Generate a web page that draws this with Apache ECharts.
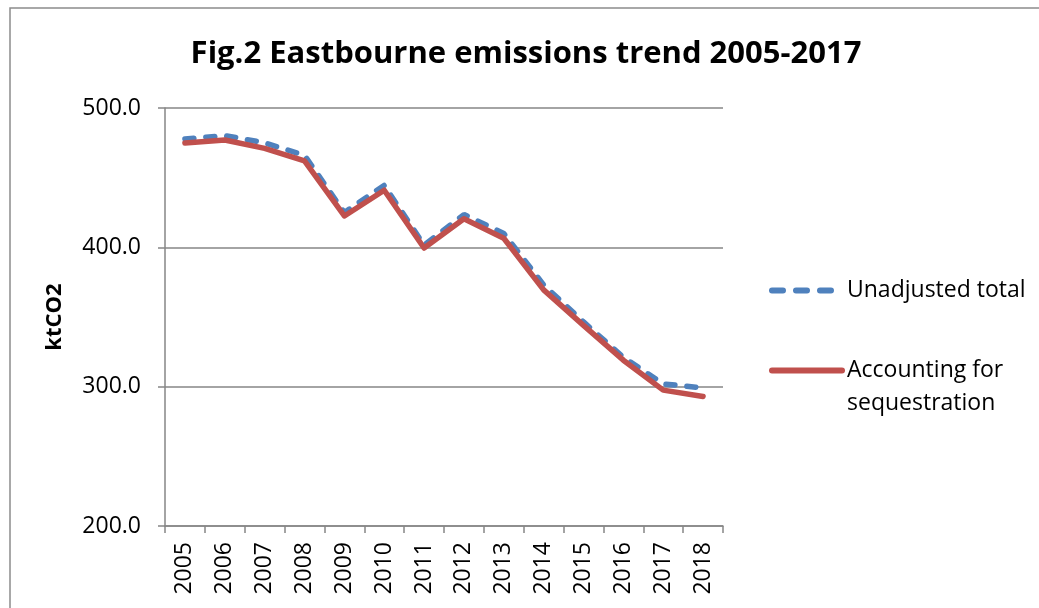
<!DOCTYPE html>
<html>
<head>
<meta charset="utf-8">
<script src="https://cdn.jsdelivr.net/npm/echarts@6/dist/echarts.min.js"></script>
<style>
  html, body { margin: 0; padding: 0; background: #fff; }
  #chart { width: 1039px; height: 608px; }
</style>
</head>
<body>
<div id="chart"></div>
<script>
  // data
  const years = ['2005', '2006', '2007', '2008', '2009', '2010', '2011',
                 '2012', '2013', '2014', '2015', '2016', '2017', '2018'];
  const unadjusted = [477.7, 480.2, 475.0, 466.0, 425.0, 444.5, 401.5,
                      423.5, 410.0, 373.0, 346.5, 321.0, 302.0, 299.0];
  const sequestration = [474.9, 477.0, 471.0, 462.0, 422.5, 441.0, 399.5,
                         420.5, 406.5, 369.5, 344.0, 319.0, 297.5, 293.0];
  const yTicks = [200, 300, 400, 500];

  const font = '"Open Sans", "Liberation Sans", sans-serif';
  const gridColor = '#868686';
  const blue = '#4F81BD';
  const red = '#C0504D';

  const chart = echarts.init(document.getElementById('chart'));
  chart.setOption({
    animation: false,
    textStyle: { fontFamily: font },
    title: {
      text: 'Fig.2 Eastbourne emissions trend 2005-2017',
      left: 521,
      textAlign: 'center',
      top: 34,
      textStyle: { fontSize: 31, fontWeight: 'bold', color: '#000', fontFamily: font }
    },
    graphic: [{
      type: 'rect',
      shape: { x: 10, y: 8, width: 1040, height: 620 },
      style: { fill: 'none', stroke: '#8c8c8c', lineWidth: 1.5 },
      silent: true
    }],
    legend: {
      orient: 'vertical',
      left: 764,
      top: 269,
      itemWidth: 70,
      itemHeight: 14,
      itemGap: 14,
      itemStyle: { opacity: 0 },
      data: [
        { name: 'Unadjusted total', lineStyle: { color: blue, width: 6, type: [11, 13], cap: 'round' } },
        { name: 'Accounting for sequestration', lineStyle: { color: red, width: 6, cap: 'round' } }
      ],
      formatter(name) {
        return name === 'Accounting for sequestration' ? ' \nAccounting for\nsequestration' : name;
      },
      textStyle: { fontSize: 23, color: '#000', lineHeight: 33, fontFamily: font }
    },
    grid: { left: 165, right: 316, top: 108, bottom: 82 },
    xAxis: {
      type: 'category',
      data: years,
      boundaryGap: true,
      axisLine: { lineStyle: { color: gridColor, width: 1.5 } },
      axisTick: { show: true, length: 7, lineStyle: { color: gridColor, width: 1.5 } },
      axisLabel: { rotate: 90, fontSize: 23, color: '#000', margin: 16, interval: 0 }
    },
    yAxis: {
      type: 'value',
      min: yTicks[0],
      max: yTicks[yTicks.length - 1],
      interval: 100,
      name: 'ktCO2',
      nameLocation: 'middle',
      nameGap: 99,
      nameTextStyle: { fontSize: 22, fontWeight: 'bold', color: '#000' },
      axisLine: { show: true, lineStyle: { color: gridColor, width: 1.5 } },
      axisTick: { show: true, length: 7, lineStyle: { color: gridColor, width: 1.5 } },
      splitLine: { lineStyle: { color: gridColor, width: 1.5 } },
      axisLabel: {
        fontSize: 23, color: '#000', margin: 24,
        formatter: v => v.toFixed(1)
      }
    },
    series: [{
      name: 'Unadjusted total',
      type: 'line',
      data: unadjusted,
      symbol: 'none',
      lineStyle: { color: blue, width: 5.5, type: [9, 12], cap: 'round' },
      itemStyle: { color: blue }
    }, {
      name: 'Accounting for sequestration',
      type: 'line',
      data: sequestration,
      symbol: 'none',
      lineStyle: { color: red, width: 5.5, cap: 'round', join: 'round' },
      itemStyle: { color: red }
    }]
  });
</script>
</body>
</html>
